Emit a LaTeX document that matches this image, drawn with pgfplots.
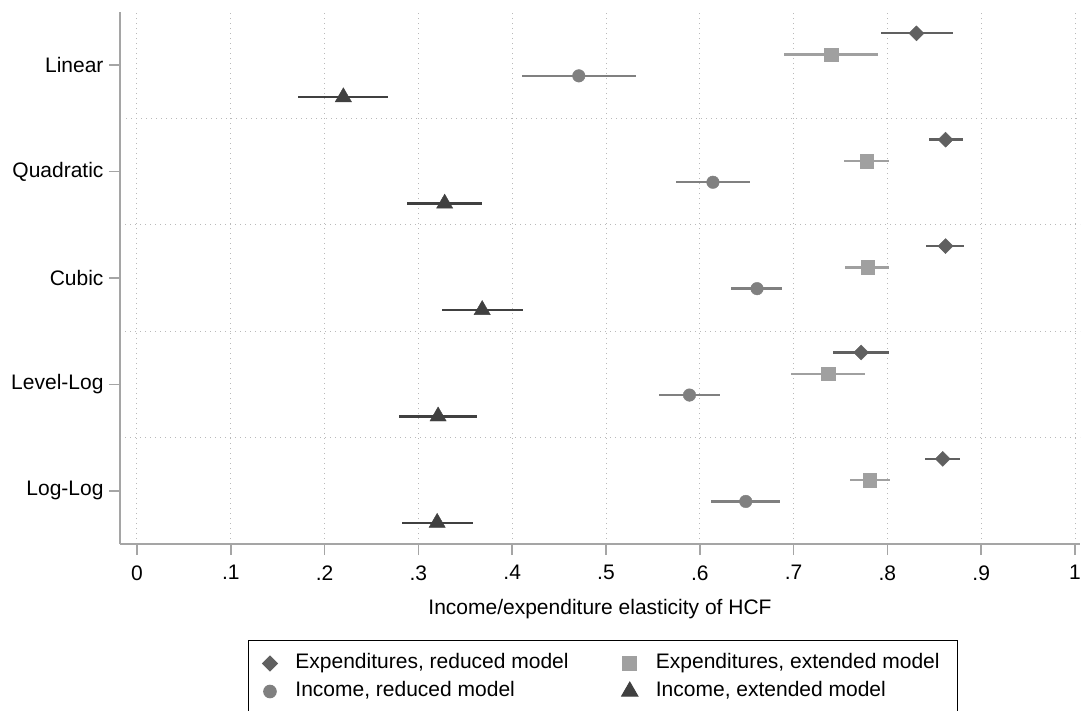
\documentclass[border=0pt]{standalone}
\usepackage{pgfplots}
\usepackage{pgfplotstable}
\pgfplotsset{compat=1.18}
\usepackage{fontspec}
\setmainfont{Liberation Sans}
\definecolor{cdia}{RGB}{96,96,96}
\definecolor{csq}{RGB}{160,160,160}
\definecolor{ccir}{RGB}{128,128,128}
\definecolor{ctri}{RGB}{64,64,64}
\definecolor{axgray}{RGB}{165,165,165}
\definecolor{gridgray}{RGB}{185,185,185}

% Expenditures, reduced model (diamond)
\pgfplotstableread{
y est lo hi
5.3 0.831 0.793 0.870
4.3 0.862 0.844 0.881
3.3 0.862 0.841 0.882
2.3 0.772 0.742 0.802
1.3 0.859 0.840 0.877
}\tdia
% Expenditures, extended model (square)
\pgfplotstableread{
y est lo hi
5.1 0.740 0.690 0.790
4.1 0.778 0.754 0.802
3.1 0.779 0.755 0.802
2.1 0.737 0.697 0.776
1.1 0.781 0.760 0.803
}\tsq
% Income, reduced model (circle)
\pgfplotstableread{
y est lo hi
4.9 0.471 0.410 0.532
3.9 0.614 0.575 0.653
2.9 0.661 0.633 0.688
1.9 0.589 0.556 0.622
0.9 0.649 0.612 0.685
}\tcir
% Income, extended model (triangle)
\pgfplotstableread{
y est lo hi
4.7 0.220 0.172 0.268
3.7 0.328 0.288 0.368
2.7 0.368 0.325 0.411
1.7 0.321 0.279 0.363
0.7 0.320 0.283 0.358
}\ttri

\begin{document}
\begin{tikzpicture}[font=\fontsize{21bp}{25bp}\selectfont]
\path[use as bounding box] (0,0) rectangle (1081bp,-711bp);
\begin{axis}[
  at={(120bp,-544bp)}, anchor=south west,
  scale only axis, width=960bp, height=532bp,
  xmin=-0.01812, xmax=1.00533, ymin=0.5, ymax=5.5,
  axis lines=left,
  axis line style={-, line width=1.6bp, draw=axgray},
  tick align=outside,
  major tick length=11bp,
  minor tick length=0pt,
  every tick/.style={line width=1.6bp, draw=axgray},
  xtick={0,0.1,0.2,0.3,0.4,0.5,0.6,0.7,0.8,0.9,1},
  xticklabels={0,.1,.2,.3,.4,.5,.6,.7,.8,.9,1},
  xticklabel style={yshift=-7bp},
  ytick={1,2,3,4,5},
  yticklabels={Log-Log,Level-Log,Cubic,Quadratic,Linear},
  yticklabel style={xshift=-2bp},
  minor ytick={1.5,2.5,3.5,4.5},
  xmajorgrids=true, ymajorgrids=false, yminorgrids=true,
  major grid style={draw=gridgray, line width=1bp, dash pattern=on 1bp off 4bp},
  minor grid style={draw=gridgray, line width=1bp, dash pattern=on 1bp off 4bp, shorten <=6bp},
  xlabel={Income/expenditure elasticity of HCF},
  xlabel style={yshift=-12bp},
  legend columns=2,
  legend cell align=left,
  legend style={at={(0.1333,-0.18045)}, anchor=north west, draw=black, line width=1bp,
    inner xsep=14bp, inner ysep=13bp,
    nodes={inner xsep=4bp, inner ysep=0bp, text height=15bp, text depth=5bp},
    row sep=8bp,
    /tikz/every odd column/.append style={column sep=14bp},
    /tikz/every even column/.append style={column sep=49bp}},
]
\addplot[only marks, mark=square*, mark size=5.3bp, color=cdia, mark options={rotate=45, fill=cdia, draw=cdia},
  error bars/.cd, x dir=both, x explicit, error mark=none,
  error bar style={line width=2.4bp, draw=cdia}]
  table[x=est, y=y, x error plus expr=\thisrow{hi}-\thisrow{est}, x error minus expr=\thisrow{est}-\thisrow{lo}] {\tdia};
\addlegendentry{Expenditures, reduced model}
\addplot[only marks, mark=square*, mark size=6.8bp, color=csq, mark options={fill=csq, draw=csq},
  error bars/.cd, x dir=both, x explicit, error mark=none,
  error bar style={line width=2.4bp, draw=csq}]
  table[x=est, y=y, x error plus expr=\thisrow{hi}-\thisrow{est}, x error minus expr=\thisrow{est}-\thisrow{lo}] {\tsq};
\addlegendentry{Expenditures, extended model}
\addplot[only marks, mark=*, mark size=6.3bp, color=ccir, mark options={fill=ccir, draw=ccir},
  error bars/.cd, x dir=both, x explicit, error mark=none,
  error bar style={line width=2.4bp, draw=ccir}]
  table[x=est, y=y, x error plus expr=\thisrow{hi}-\thisrow{est}, x error minus expr=\thisrow{est}-\thisrow{lo}] {\tcir};
\addlegendentry{Income, reduced model}
\addplot[only marks, mark=triangle*, mark size=9.4bp, color=ctri, mark options={fill=ctri, draw=ctri},
  error bars/.cd, x dir=both, x explicit, error mark=none,
  error bar style={line width=2.4bp, draw=ctri}]
  table[x=est, y=y, x error plus expr=\thisrow{hi}-\thisrow{est}, x error minus expr=\thisrow{est}-\thisrow{lo}] {\ttri};
\addlegendentry{Income, extended model}
\end{axis}
\end{tikzpicture}
\end{document}
